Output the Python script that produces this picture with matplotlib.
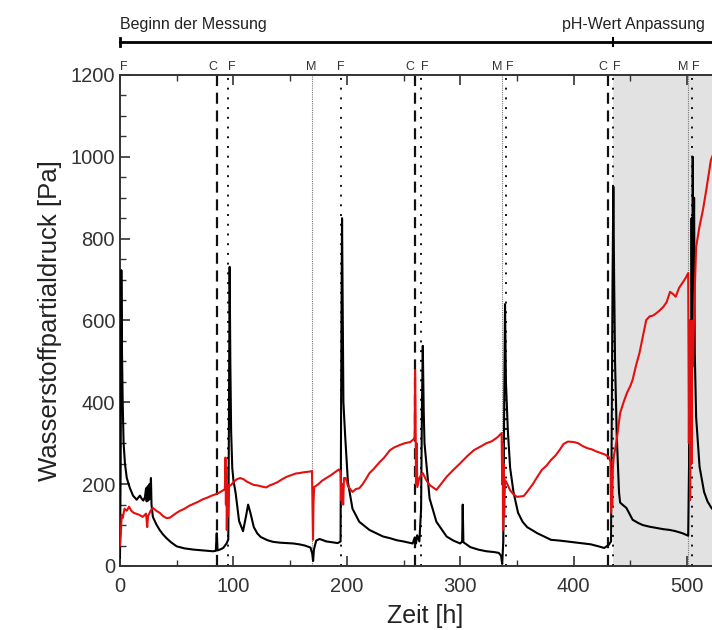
import numpy as np
import matplotlib.pyplot as plt
from matplotlib.ticker import MultipleLocator
from matplotlib.transforms import blended_transform_factory

plt.rcParams['font.family'] = ['Liberation Sans', 'DejaVu Sans']

# Wasserstoffpartialdruck, schwarze Kurve (Zeit [h], Druck [Pa])
black_t = [0, 0.6, 1.2, 1.8, 2.4, 3.2, 4.4, 6, 8.8, 11.5, 14.7, 17.6, 19, 20.6, 22, 23, 23.5, 24.5, 25, 26,
           26.5, 27.3, 27.8, 29, 32, 35, 38, 41, 45, 50, 57, 65, 73, 82, 84.5, 85.3, 86, 88, 91, 94,
           95.5, 96.2, 96.7, 97.3, 98, 99, 100, 102, 105, 108.5, 111, 113, 115, 118, 121, 124, 130, 135, 141, 147,
           153, 158, 163, 168, 169.5, 170.3, 171, 173, 176, 182, 187, 192, 194.5, 195.3, 195.8, 196.4, 197, 198.5, 201, 205,
           211, 220, 226, 232, 238, 244, 250, 258, 260, 261, 262, 264, 265.5, 266.3, 267, 267.8, 268.5, 270.5, 273, 279,
           288, 294, 300, 301.7, 302.2, 302.8, 309, 316, 323, 330, 334, 336, 337, 338, 338.8, 339.5, 340.3, 342, 344, 347,
           351, 355, 359, 368, 374, 380, 388, 397, 406, 415, 422, 427, 431, 433, 434.3, 435, 435.7, 436.5, 438, 440,
           441, 443, 446.5, 452, 457, 461, 467, 473, 479, 485, 490, 496, 501, 502, 502.5, 503, 503.5, 504, 504.5, 505,
           505.6, 506.2, 506.8, 508, 511, 515, 518, 521, 525]
black_p = [20, 240, 723, 520, 400, 300, 250, 215, 190, 172, 162, 172, 165, 160, 168, 190, 158, 195, 160, 200,
           165, 215, 150, 120, 102, 88, 77, 68, 58, 48, 43, 40, 38, 36, 37, 80, 38, 40, 44, 55,
           65, 420, 731, 500, 330, 240, 210, 178, 110, 85, 120, 150, 130, 95, 80, 71, 63, 59, 57, 56,
           55, 53, 50, 45, 30, 12, 40, 62, 66, 60, 58, 56, 60, 600, 850, 620, 400, 320, 205, 140,
           108, 88, 80, 72, 68, 63, 60, 55, 70, 55, 75, 60, 140, 400, 538, 380, 300, 240, 165, 108,
           72, 62, 55, 60, 150, 58, 46, 40, 36, 34, 32, 25, 5, 60, 400, 640, 450, 330, 240, 180,
           130, 108, 95, 80, 72, 64, 62, 59, 56, 53, 48, 44, 52, 60, 700, 927, 700, 500, 320, 180,
           155, 150, 142, 113, 105, 100, 96, 93, 90, 88, 85, 80, 74, 300, 180, 600, 350, 850, 500, 1000,
           700, 900, 520, 364, 243, 181, 158, 144, 130]

# rote Kurve
red_t = [0, 0.8, 1.5, 2.5, 4, 6, 8, 10, 12, 14, 17, 20, 23, 24, 24.8, 27, 29, 32, 35, 38,
         41, 44, 47, 50, 53, 57, 61, 65, 69, 73, 77, 81, 85, 88, 91, 92.5, 93, 93.4, 93.8, 94.2,
         94.7, 95.3, 96.2, 98, 100, 103, 106, 109, 112, 115, 118, 121, 124, 127, 129, 132, 135, 139, 143, 147,
         151, 155, 158, 162, 165, 168, 169.3, 169.8, 170.2, 170.6, 171.2, 175, 178, 182, 186, 190, 193, 194.5, 195.2, 196,
         196.8, 197.5, 199, 201, 205, 208, 211, 214, 217, 220, 224, 229, 233, 238, 242, 247, 251, 256, 259, 259.8,
         260.2, 260.6, 261, 261.5, 262.2, 264, 266, 267, 270, 273, 276, 279, 283, 288, 294, 300, 306, 312, 318, 323,
         328, 333, 336.5, 337, 337.4, 337.8, 338.3, 338.7, 339.5, 341, 344, 347, 350, 353, 356, 360, 364, 368, 372, 376,
         380, 384, 388, 391, 395, 400, 404, 408, 412, 416, 420, 424, 428, 431, 432.5, 433, 433.5, 434, 434.6, 435.5,
         437, 439, 441, 444, 447, 450, 452, 455, 458, 461, 464, 467, 470, 473, 476, 479, 482, 485, 487.5, 490,
         493, 496, 499, 501, 501.6, 502.2, 502.7, 503.3, 504, 504.6, 505.2, 506.5, 508, 511, 514, 517, 521, 525]
red_p = [50, 80, 125, 118, 140, 135, 145, 135, 130, 128, 125, 120, 128, 95, 122, 135, 142, 135, 130, 122,
         117, 118, 124, 130, 135, 140, 147, 152, 157, 163, 167, 172, 176, 180, 185, 188, 265, 150, 240, 88,
         200, 120, 195, 198, 205, 212, 215, 212, 206, 202, 198, 197, 195, 193, 192, 197, 200, 205, 212, 218,
         222, 226, 227, 229, 230, 231, 232, 140, 64, 150, 193, 200, 208, 215, 222, 230, 236, 230, 160, 200,
         150, 215, 215, 195, 181, 188, 190, 200, 213, 227, 238, 254, 265, 283, 290, 296, 300, 303, 310, 315,
         479, 380, 200, 300, 193, 215, 225, 227, 210, 198, 192, 186, 200, 218, 235, 251, 268, 283, 292, 300,
         305, 315, 325, 200, 300, 88, 250, 120, 210, 203, 185, 175, 169, 170, 171, 185, 200, 218, 235, 245,
         259, 270, 285, 298, 304, 303, 300, 293, 288, 285, 280, 276, 272, 266, 255, 130, 230, 145, 240, 270,
         291, 330, 374, 400, 423, 440, 455, 490, 520, 560, 601, 610, 612, 618, 625, 633, 645, 670, 665, 658,
         680, 692, 705, 716, 300, 600, 161, 500, 250, 600, 487, 650, 780, 830, 870, 920, 992, 1020]

# Ereignisse: C = gestrichelt, F = gepunktet, M = fein gepunktet
event_t = [0, 85.5, 95, 169, 195, 260, 265, 337, 340, 430, 435, 501, 504]
event_kind = ['F', 'C', 'F', 'M', 'F', 'C', 'F', 'M', 'F', 'C', 'F', 'M', 'F']
ph_start = 435
t_max = 538

fig = plt.figure(figsize=(7.12, 6.3), dpi=100)
ax = fig.add_axes([0.1685, 0.1016, 0.857, 0.7794])

ax.axvspan(ph_start, t_max, color='#e2e2e2', lw=0, zorder=0)

styles = {'C': dict(color='#111111', lw=1.6, ls=(0, (5, 3))),
          'F': dict(color='#111111', lw=1.4, ls=(0, (1, 4))),
          'M': dict(color='#777777', lw=0.8, ls=(0, (1, 1)))}
for t, k in zip(event_t, event_kind):
    ax.axvline(t, zorder=1, **styles[k])

ax.plot(black_t, black_p, color='black', lw=1.5, zorder=3)
ax.plot(red_t, red_p, color='#e3100f', lw=1.5, zorder=4)

# Buchstaben über der Achse
trans = blended_transform_factory(ax.transData, ax.transAxes)
for i, (t, k) in enumerate(zip(event_t, event_kind)):
    paired = any(abs(t - s) < 12 for j, s in enumerate(event_t) if j != i)
    if t == 0:
        ha = 'left'
    elif paired:
        ha = 'right' if k in ('C', 'M') else 'left'
    else:
        ha = 'center'
    ax.text(t, 1.004, k, transform=trans, ha=ha, va='bottom', fontsize=9, color='#333333')

# Zeitleiste oben
ax.plot([0, t_max], [1.067, 1.067], transform=trans, color='black', lw=2, clip_on=False)
ax.plot([0, 0], [1.058, 1.076], transform=trans, color='black', lw=2, clip_on=False)
ax.plot([ph_start, ph_start], [1.058, 1.076], transform=trans, color='black', lw=1.5, clip_on=False)
ax.text(0, 1.088, 'Beginn der Messung', transform=trans, ha='left', va='bottom', fontsize=11.5, color='#222222')
ax.text(453, 1.088, 'pH-Wert Anpassung', transform=trans, ha='center', va='bottom', fontsize=11.5, color='#222222')

ax.set_xlim(0, t_max)
ax.set_ylim(0, 1200)
ax.xaxis.set_major_locator(MultipleLocator(100))
ax.xaxis.set_minor_locator(MultipleLocator(50))
ax.yaxis.set_major_locator(MultipleLocator(200))
ax.yaxis.set_minor_locator(MultipleLocator(50))
ax.tick_params(which='both', direction='in', top=True, right=False, labelsize=14.5, colors='#333333')
ax.tick_params(axis='x', which='major', pad=8)
ax.tick_params(which='major', length=7, width=1.2)
ax.tick_params(which='minor', length=4, width=1)
for s in ax.spines.values():
    s.set_color('#333333')
    s.set_linewidth(1.4)

ax.set_xlabel('Zeit [h]', fontsize=18, color='#222222', labelpad=6)
ax.set_ylabel('Wasserstoffpartialdruck [Pa]', fontsize=18.5, color='#222222', labelpad=6)

fig.savefig('out.png', dpi=100)
